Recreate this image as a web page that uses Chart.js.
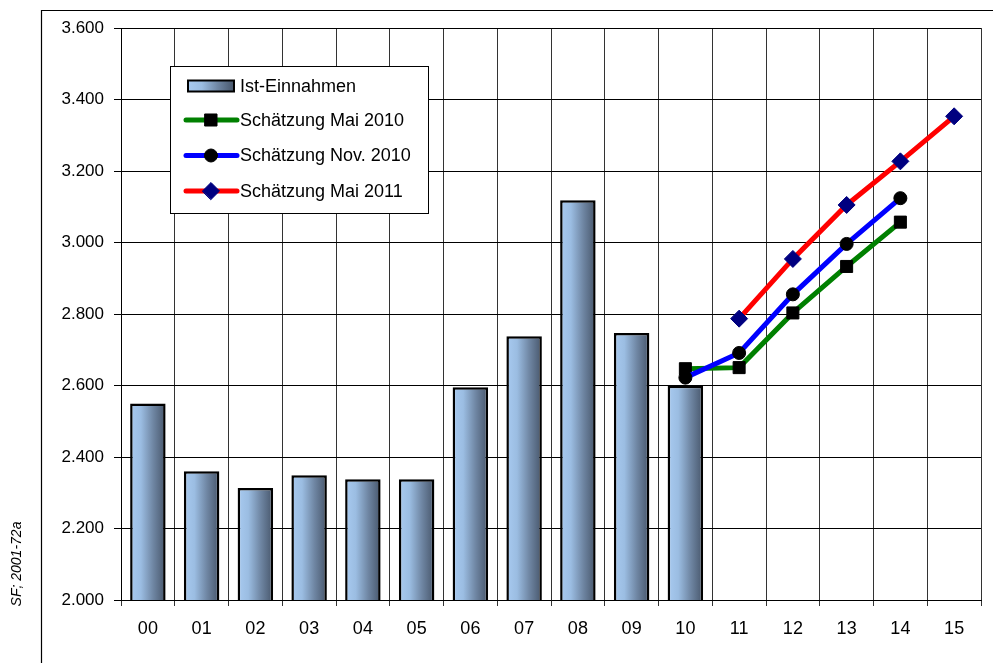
<!DOCTYPE html>
<html>
<head>
<meta charset="utf-8">
<script src="https://cdn.jsdelivr.net/npm/chart.js@4/dist/chart.umd.min.js"></script>
<style>
  html, body { margin: 0; padding: 0; background: #fff; }
  #wrap { position: relative; width: 993px; height: 663px; }
</style>
</head>
<body>
<div id="wrap"><canvas id="c" width="993" height="663"></canvas></div>
<script>
// chart data
const years = ["00","01","02","03","04","05","06","07","08","09","10","11","12","13","14","15"];
const istEinnahmen = [2550, 2360, 2313, 2349, 2338, 2338, 2595, 2738, 3118, 2747, 2599, null, null, null, null, null];
const schaetzMai2010 = [null, null, null, null, null, null, null, null, null, null, 2647, 2650, 2803, 2933, 3057, null];
const schaetzNov2010 = [null, null, null, null, null, null, null, null, null, null, 2622, 2691, 2855, 2996, 3124, null];
const schaetzMai2011 = [null, null, null, null, null, null, null, null, null, null, null, 2787, 2954, 3105, 3227, 3353];
const yTicks = [2000, 2200, 2400, 2600, 2800, 3000, 3200, 3400, 3600];
const sideNote = "SF; 2001-72a";

const FONT = "'Liberation Sans', Arial, sans-serif";
const BAR_PCT = 0.66;

function fmt(v){
  return String(v).replace(/\B(?=(\d{3})+(?!\d))/g, ".");
}

function gradientAt(c, x0, x1){
  const g = c.createLinearGradient(x0, 0, x1, 0);
  g.addColorStop(0, "#a8caf0");
  g.addColorStop(0.3, "#9bbde2");
  g.addColorStop(0.65, "#6f86a3");
  g.addColorStop(1, "#47566b");
  return g;
}

function barGradient(ctx){
  const chart = ctx.chart;
  const area = chart.chartArea;
  if(!area || !chart.scales.x) return "#8fb0d6";
  const cx = chart.scales.x.getPixelForValue(ctx.dataIndex);
  const half = (area.right - area.left) / years.length * BAR_PCT / 2;
  return gradientAt(chart.ctx, cx - half, cx + half);
}

// frame, side note and legend box
const decor = {
  id: "decor",
  beforeDraw(chart){
    const c = chart.ctx;
    c.save();
    c.fillStyle = "#fff";
    c.fillRect(0, 0, chart.width, chart.height);
    c.strokeStyle = "#000";
    c.lineWidth = 1.2;
    c.beginPath();
    c.moveTo(41.5, chart.height);
    c.lineTo(41.5, 10.5);
    c.lineTo(chart.width, 10.5);
    c.stroke();
    c.translate(17, 564);
    c.rotate(-Math.PI/2);
    c.font = "italic 14px " + FONT;
    c.fillStyle = "#000";
    c.textAlign = "center";
    c.textBaseline = "middle";
    c.fillText(sideNote, 0, 0);
    c.restore();
  },
  afterDraw(chart){
    const c = chart.ctx;
    c.save();
    const bx = 170.5, by = 66.5, bw = 258, bh = 147;
    c.fillStyle = "#fff";
    c.fillRect(bx, by, bw, bh);
    c.strokeStyle = "#000";
    c.lineWidth = 1;
    c.strokeRect(bx, by, bw, bh);
    c.font = "18px " + FONT;
    c.textBaseline = "middle";
    c.textAlign = "left";
    const rows = [86, 120, 155.5, 191];
    chart.data.datasets.forEach((ds, i) => {
      const y = rows[i];
      if(ds.type === "bar"){
        c.fillStyle = gradientAt(c, 188, 234);
        c.fillRect(188, y - 5.5, 46, 11);
        c.lineWidth = 2;
        c.strokeStyle = "#000";
        c.strokeRect(188, y - 5.5, 46, 11);
      } else {
        c.strokeStyle = ds.borderColor;
        c.lineWidth = 5;
        c.lineCap = "round";
        c.beginPath();
        c.moveTo(186, y);
        c.lineTo(237, y);
        c.stroke();
        c.fillStyle = ds.pointBackgroundColor;
        c.strokeStyle = ds.pointBorderColor;
        c.lineWidth = 1;
        Chart.helpers.drawPoint(c, {pointStyle: ds.pointStyle, radius: ds.pointRadius, borderWidth: 1, rotation: 0}, 211, y);
      }
      c.fillStyle = "#000";
      c.fillText(ds.label, 240, y + 1);
    });
    c.restore();
  }
};

const lineBase = { type: "line", borderWidth: 5, fill: false, spanGaps: false, tension: 0, pointBorderWidth: 1, pointHoverRadius: 0 };

new Chart(document.getElementById("c"), {
  type: "bar",
  data: {
    labels: years,
    datasets: [
      { type: "bar", label: "Ist-Einnahmen", data: istEinnahmen, order: 4,
        backgroundColor: barGradient, borderColor: "#000", borderWidth: 2.5,
        barPercentage: BAR_PCT, categoryPercentage: 1 },
      Object.assign({}, lineBase, { label: "Schätzung Mai 2010", data: schaetzMai2010, order: 3,
        borderColor: "#008000", pointStyle: "rect", pointRadius: 8.5,
        pointBackgroundColor: "#000", pointBorderColor: "#000" }),
      Object.assign({}, lineBase, { label: "Schätzung Nov. 2010", data: schaetzNov2010, order: 2,
        borderColor: "#0000ff", pointStyle: "circle", pointRadius: 6.5,
        pointBackgroundColor: "#000", pointBorderColor: "#000" }),
      Object.assign({}, lineBase, { label: "Schätzung Mai 2011", data: schaetzMai2011, order: 1,
        borderColor: "#ff0000", pointStyle: "rectRot", pointRadius: 8.5,
        pointBackgroundColor: "#000080", pointBorderColor: "#000080" })
    ]
  },
  options: {
    responsive: false,
    animation: false,
    events: [],
    layout: { padding: { left: 0, right: 12, top: 28, bottom: 0 } },
    plugins: { legend: { display: false }, tooltip: { enabled: false } },
    scales: {
      x: {
        offset: true,
        grid: {
          offset: true,
          color: (ctx) => ctx.index === years.length ? "#8a8a8a" : "#333",
          lineWidth: (ctx) => ctx.index === years.length ? 2 : 1,
          tickLength: 6,
          tickColor: "#333"
        },
        border: { color: "#000", width: 1 },
        ticks: { color: "#000", font: { family: FONT, size: 18 }, padding: 12, maxRotation: 0, autoSkip: false },
        afterFit(s){ s.height = 63; }
      },
      y: {
        min: 2000, max: 3600,
        afterBuildTicks(s){ s.ticks = yTicks.map(v => ({ value: v })); },
        grid: { color: "#000", lineWidth: 1, tickLength: 7, tickColor: "#000" },
        border: { color: "#000", width: 1 },
        ticks: { color: "#000", font: { family: FONT, size: 17 }, padding: 10, callback: (v) => fmt(v) },
        afterFit(s){ s.width = 121; }
      }
    }
  },
  plugins: [decor]
});
</script>
</body>
</html>
